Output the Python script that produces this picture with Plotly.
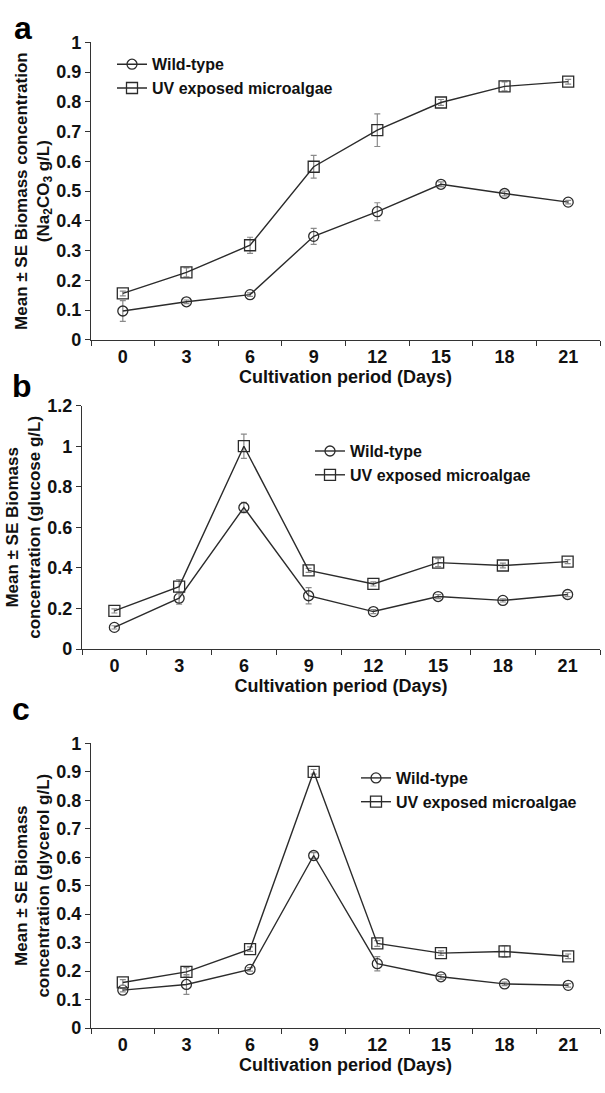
import plotly.graph_objects as go

W, H = 605, 1093
days = ["0", "3", "6", "9", "12", "15", "18", "21"]

# Panel a (Na2CO3)
a_wt = [0.097, 0.128, 0.152, 0.348, 0.431, 0.523, 0.492, 0.463]
a_wt_err = [0.035, 0.006, 0.006, 0.027, 0.030, 0.008, 0.008, 0.006]
a_uv = [0.156, 0.227, 0.318, 0.582, 0.705, 0.798, 0.852, 0.868]
a_uv_err = [0.008, 0.015, 0.027, 0.038, 0.055, 0.010, 0.015, 0.008]

# Panel b (glucose)
b_wt = [0.107, 0.251, 0.698, 0.263, 0.185, 0.259, 0.240, 0.269]
b_wt_err = [0.008, 0.030, 0.025, 0.040, 0.010, 0.010, 0.008, 0.010]
b_uv = [0.188, 0.308, 1.000, 0.388, 0.321, 0.426, 0.412, 0.431]
b_uv_err = [0.010, 0.035, 0.060, 0.010, 0.010, 0.020, 0.012, 0.010]

# Panel c (glycerol)
c_wt = [0.133, 0.153, 0.206, 0.606, 0.226, 0.180, 0.155, 0.150]
c_wt_err = [0.006, 0.035, 0.006, 0.010, 0.025, 0.008, 0.006, 0.006]
c_uv = [0.160, 0.197, 0.277, 0.900, 0.297, 0.263, 0.269, 0.252]
c_uv_err = [0.010, 0.015, 0.008, 0.008, 0.010, 0.008, 0.020, 0.008]

names = ["Wild-type", "UV exposed microalgae"]
FONT = "Liberation Sans, Arial, sans-serif"
LINE = "#2b2b2b"
ERR = "#8a8a8a"

panels = [
    dict(wt=a_wt, wte=a_wt_err, uv=a_uv, uve=a_uv_err, x0=91, y0=33, y1=336,
         yr=1.0, dt=0.1,
         ytitle="Mean ± SE Biomass concentration<br>(Na<sub>2</sub>CO<sub>3</sub> g/L)",
         leg=(112, 38), letter="a", lpos=(12, 18)),
    dict(wt=b_wt, wte=b_wt_err, uv=b_uv, uve=b_uv_err, x0=82, y0=403, y1=651,
         yr=1.2, dt=0.2,
         ytitle="Mean ± SE Biomass<br>concentration (glucose g/L)",
         leg=(310, 432), letter="b", lpos=(10, 383)),
    dict(wt=c_wt, wte=c_wt_err, uv=c_uv, uve=c_uv_err, x0=91, y0=747, y1=1037,
         yr=1.0, dt=0.1,
         ytitle="Mean ± SE Biomass<br>concentration (glycerol g/L)",
         leg=(356, 765), letter="c", lpos=(10, 712)),
]

fig = go.Figure()
annotations = []
for i, p in enumerate(panels):
    k = "" if i == 0 else str(i + 1)
    legname = "legend" + k
    for j, (ys, es, sym, msz) in enumerate([(p["wt"], p["wte"], "circle-open", 10),
                                            (p["uv"], p["uve"], "square-open", 11)]):
        fig.add_trace(go.Scatter(
            x=days, y=ys, name=names[j], mode="lines+markers",
            xaxis="x" + k, yaxis="y" + k, legend=legname,
            line=dict(color=LINE, width=1.4),
            marker=dict(symbol=sym, size=msz, color=LINE, line=dict(width=1.3, color=LINE)),
            error_y=dict(type="data", array=es, visible=True, color=ERR, thickness=1.2, width=3),
        ))
    xd = [p["x0"] / W, 600 / W]
    yd = [1 - p["y1"] / H, 1 - p["y0"] / H]
    fig.layout["xaxis" + k] = dict(
        domain=xd, anchor="y" + k, type="category", range=[-0.5, 7.5],
        tickson="boundaries", ticks="outside", ticklen=5, tickcolor="#333",
        showline=True, linecolor="#333", linewidth=1.2, showgrid=False, zeroline=False,
        tickfont=dict(family=FONT, size=18, color="#111", weight="bold"),
        title=dict(text="Cultivation period (Days)", standoff=4,
                   font=dict(family=FONT, size=18, color="#111", weight="bold")),
    )
    fig.layout["yaxis" + k] = dict(
        domain=yd, anchor="x" + k, range=[0, p["yr"]], dtick=p["dt"],
        ticks="outside", ticklen=5, tickcolor="#333",
        showline=True, linecolor="#333", linewidth=1.2, showgrid=False, zeroline=False,
        tickfont=dict(family=FONT, size=18, color="#111", weight="bold"),
        title=dict(text=p["ytitle"], standoff=2,
                   font=dict(family=FONT, size=17, color="#111", weight="bold")),
    )
    fig.layout[legname] = dict(
        x=p["leg"][0] / W, y=1 - p["leg"][1] / H, xanchor="left", yanchor="top",
        xref="paper", yref="paper", bgcolor="rgba(0,0,0,0)",
        font=dict(family=FONT, size=16, color="#111", weight="bold"),
        itemwidth=30, tracegroupgap=0,
    )
    annotations.append(dict(
        text=p["letter"], x=p["lpos"][0] / W, y=1 - p["lpos"][1] / H,
        xref="paper", yref="paper", xanchor="left", yanchor="middle", showarrow=False,
        font=dict(family=FONT, size=32, color="#000", weight="bold"),
    ))

fig.update_layout(
    width=W, height=H, margin=dict(l=0, r=0, t=0, b=0),
    paper_bgcolor="white", plot_bgcolor="white",
    showlegend=True, annotations=annotations,
)
fig.write_html("out.html")
